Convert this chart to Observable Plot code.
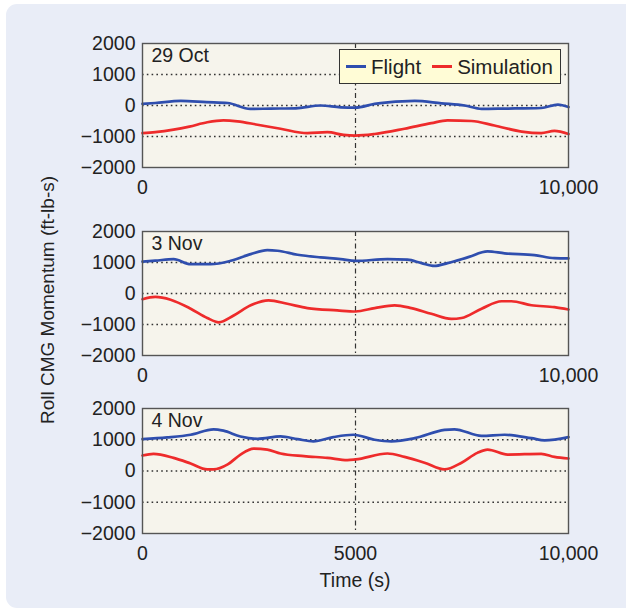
<!DOCTYPE html>
<html>
<head>
<meta charset="utf-8">
<script src="https://cdn.jsdelivr.net/npm/d3@7"></script>
<script src="https://cdn.jsdelivr.net/npm/@observablehq/plot@0.6"></script>
<style>
  html, body { margin: 0; padding: 0; background: #ffffff; }
  #wrap { position: relative; width: 626px; height: 613px; overflow: hidden; font-family: "Liberation Sans", Arial, sans-serif; color: #222; }
  #bg { position: absolute; left: 6px; top: 4px; width: 640px; height: 604px; background: #e9edf7; border-radius: 11px; }
  .panel { position: absolute; left: 0; }
  #ylabel { position: absolute; left: 47px; top: 300px; transform: translate(-50%, -50%) rotate(-90deg); white-space: nowrap; font-size: 19px; line-height: 1; }
  #xlabel { position: absolute; left: 355px; top: 581px; transform: translate(-50%, -50%); white-space: nowrap; font-size: 19.5px; line-height: 1; }
  #legend { position: absolute; left: 339px; top: 49px; width: 222px; height: 35px; background: #fffcd6; border: 1.2px solid #333; display: flex; align-items: center; font-size: 20.5px; box-sizing: border-box; padding-left: 6px; }
  .sw { display: inline-block; width: 20px; height: 3px; margin-right: 5px; }
  .it { display: flex; align-items: center; margin-right: 11px; }
</style>
</head>
<body>
<div id="wrap">
  <div id="bg"></div>
  <div id="ylabel">Roll CMG Momentum (ft-lb-s)</div>
  <div id="xlabel">Time (s)</div>
</div>
<script>
// ---- Data ----
const panelLabels = ["29 Oct", "3 Nov", "4 Nov"];
const seriesNames = ["Flight", "Simulation"];
const yTicks = [-2000, -1000, 0, 1000, 2000];
const gridY = [-1000, 0, 1000];
const markerX = [5000];

const oct29FlightT = [0, 300, 900, 1500, 2000, 2530, 3000, 3600, 4180, 4650, 5000, 5450, 5760, 6390, 7020, 7560, 7960, 8500, 9360, 9750, 10000];
const oct29FlightV = [50, 80, 150, 110, 80, -110, -100, -90, 0, -60, -70, 50, 100, 150, 70, 0, -110, -100, -80, 30, -50];
const oct29SimT = [0, 300, 730, 1100, 1520, 1900, 2230, 2700, 3240, 3870, 4340, 4720, 5000, 5450, 6150, 6780, 7160, 7720, 8260, 8900, 9360, 9670, 10000];
const oct29SimV = [-890, -860, -780, -680, -540, -480, -510, -620, -750, -890, -860, -950, -970, -920, -750, -570, -480, -500, -645, -840, -890, -820, -920];

const nov3FlightT = [0, 300, 730, 1130, 1600, 2070, 2540, 2930, 3170, 3640, 4180, 4650, 5000, 5750, 6220, 6550, 6850, 7160, 7630, 8100, 8500, 9200, 9670, 10000];
const nov3FlightV = [1030, 1060, 1110, 945, 945, 1055, 1270, 1400, 1380, 1250, 1165, 1110, 1050, 1110, 1090, 980, 890, 980, 1165, 1360, 1295, 1240, 1140, 1130];
const nov3SimT = [0, 300, 660, 1130, 1520, 1790, 2140, 2540, 2960, 3400, 3870, 4570, 5000, 5450, 5920, 6310, 6780, 7250, 7490, 7960, 8430, 8660, 9130, 9670, 10000];
const nov3SimV = [-185, -110, -200, -490, -790, -930, -710, -380, -220, -330, -470, -545, -580, -470, -380, -470, -655, -820, -790, -490, -250, -250, -380, -440, -515];

const nov4FlightT = [0, 580, 1130, 1670, 1900, 2300, 2700, 3240, 3640, 4010, 4480, 4950, 5450, 5840, 6390, 7090, 7320, 7960, 8500, 9130, 9440, 10000];
const nov4FlightV = [1020, 1075, 1160, 1335, 1290, 1105, 1030, 1105, 1020, 950, 1085, 1160, 1000, 950, 1050, 1315, 1335, 1125, 1160, 1050, 980, 1085];
const nov4SimT = [0, 260, 730, 1130, 1520, 1670, 2000, 2300, 2610, 2930, 3240, 3790, 4340, 4810, 5000, 5750, 6150, 6620, 7090, 7490, 7860, 8100, 8570, 9360, 9670, 10000];
const nov4SimV = [495, 550, 420, 240, 50, 50, 210, 525, 715, 685, 560, 475, 420, 350, 370, 560, 450, 265, 50, 265, 580, 685, 525, 550, 450, 400];

const xTicksTop = [0, 10000];
const xTicksBottom = [0, 5000, 10000];

const colors = { Flight: "#2f4eae", Simulation: "#ee2b2b" };

const zip = (T, V) => T.map((t, i) => ({ t, v: V[i] }));

const panels = [
  { label: panelLabels[0], flight: zip(oct29FlightT, oct29FlightV), sim: zip(oct29SimT, oct29SimV), xt: xTicksTop, top: 33, h: 124 },
  { label: panelLabels[1], flight: zip(nov3FlightT, nov3FlightV), sim: zip(nov3SimT, nov3SimV), xt: xTicksTop, top: 221, h: 124 },
  { label: panelLabels[2], flight: zip(nov4FlightT, nov4FlightV), sim: zip(nov4SimT, nov4SimV), xt: xTicksBottom, top: 398, h: 125 }
];

const fmtX = d => d >= 10000 ? d3.format(",")(d) : String(d);
const fmtY = d => d < 0 ? "\u2212" + Math.abs(d) : String(d);

const wrap = document.getElementById("wrap");

panels.forEach(p => {
  const chart = Plot.plot({
    width: 626,
    height: 10 + p.h + 40,
    marginLeft: 142,
    marginRight: 58,
    marginTop: 10,
    marginBottom: 40,
    style: { fontFamily: "'Liberation Sans', Arial, sans-serif", fontSize: "19.5px", color: "#222", background: "transparent", overflow: "visible" },
    x: { domain: [0, 10000], ticks: p.xt, tickFormat: fmtX, tickSize: 0, tickPadding: 13, label: null },
    y: { domain: [-2000, 2000], ticks: yTicks, tickFormat: fmtY, tickSize: 0, tickPadding: 7, label: null },
    marks: [
      Plot.frame({ fill: "#f6f4ec" }),
      Plot.ruleY(gridY, { stroke: "#333", strokeWidth: 1.5, strokeDasharray: "1.6,3.2" }),
      Plot.ruleX(markerX, { stroke: "#333", strokeWidth: 1.2, strokeDasharray: "5,3,1.5,3" }),
      Plot.line(p.flight, { x: "t", y: "v", stroke: colors.Flight, strokeWidth: 2.7, curve: "monotone-x" }),
      Plot.line(p.sim, { x: "t", y: "v", stroke: colors.Simulation, strokeWidth: 2.7, curve: "monotone-x" }),
      Plot.frame({ stroke: "#555", strokeWidth: 1.4 }),
      Plot.text([p.label], { text: d => d, frameAnchor: "top-left", dx: 9, dy: 5, lineAnchor: "top", textAnchor: "start", fontSize: 19.5, fill: "#222" })
    ]
  });
  chart.classList.add("panel");
  chart.style.top = p.top + "px";
  wrap.appendChild(chart);
});

// legend
const legend = document.createElement("div");
legend.id = "legend";
seriesNames.forEach(name => {
  const it = document.createElement("div");
  it.className = "it";
  const sw = document.createElement("span");
  sw.className = "sw";
  sw.style.background = colors[name];
  const tx = document.createElement("span");
  tx.textContent = name;
  it.appendChild(sw);
  it.appendChild(tx);
  legend.appendChild(it);
});
wrap.appendChild(legend);
</script>
</body>
</html>
